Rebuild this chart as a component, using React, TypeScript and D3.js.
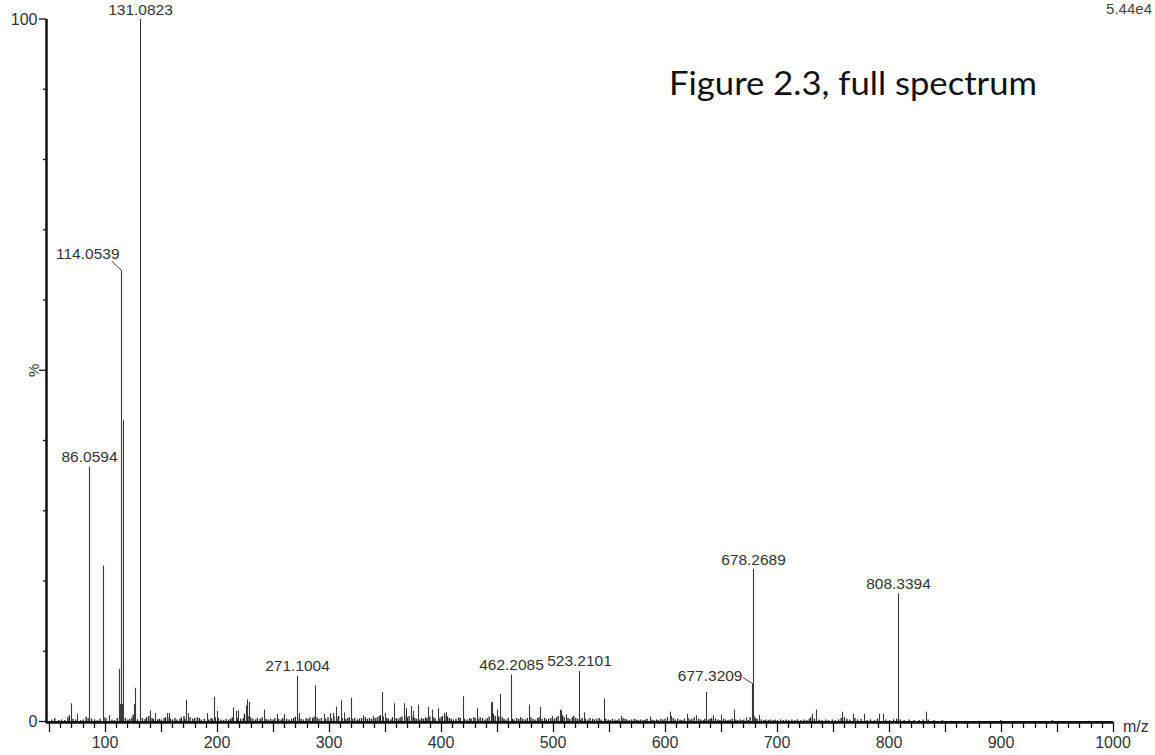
import React from "react";
import * as d3 from "d3";

// Annotated peaks: [m/z, relative intensity %]
const labeledPeaks: [number, number][] = [
  [86.0594, 36.3],
  [114.0539, 64.2],
  [131.0823, 100],
  [271.1004, 6.5],
  [462.2085, 6.7],
  [523.2101, 7.2],
  [677.3209, 5.4],
  [678.2689, 21.7],
  [808.3394, 18.25],
];

// Unannotated fragment peaks: [m/z, relative intensity %]
const minorPeaks: [number, number][] = [
  [69.6, 2.6], [74.7, 1.1], [97.9, 22.2], [103.5, 0.9], [112.6, 7.5], [113.5, 2.5],
  [114.6, 2.7], [115.3, 2.5], [116.3, 42.9], [126.2, 2.5], [127.2, 4.8], [140.4, 1.6],
  [144.6, 1.2], [155.0, 1.2], [157.0, 1.2], [172.3, 3.1], [174.3, 1.2], [190.7, 1.2],
  [197.3, 3.5], [199.6, 1.5], [214.5, 2.0], [216.9, 1.5], [219.0, 1.6], [225.6, 2.3],
  [226.5, 3.15], [228.8, 2.8], [242.0, 1.7], [253.2, 1.1], [260.0, 1.1], [273.4, 1.2],
  [287.7, 5.15], [295.4, 1.1], [300.8, 1.2], [303.2, 1.2], [305.9, 2.1], [310.3, 3.0],
  [313.3, 1.3], [319.3, 3.4], [330.6, 0.9], [339.5, 0.8], [347.0, 4.2], [350.0, 1.2],
  [358.2, 2.6], [366.8, 2.6], [368.6, 1.9], [372.8, 2.2], [375.1, 1.5], [379.6, 2.4],
  [388.5, 2.1], [392.1, 1.7], [396.9, 1.9], [402.5, 1.2], [404.3, 1.3], [419.8, 3.6],
  [431.7, 1.9], [444.5, 2.7], [445.7, 2.8], [450.1, 1.7], [453.1, 3.9], [478.7, 2.4],
  [488.8, 2.1], [499.5, 0.8], [506.1, 1.7], [507.0, 1.6], [512.0, 1.0], [527.3, 1.3],
  [545.4, 3.3], [560.6, 0.8], [586.4, 0.7], [604.3, 1.4], [619.2, 1.1], [628.1, 0.9],
  [637.0, 4.2], [643.0, 0.9], [650.4, 1.0], [661.4, 1.7], [672.1, 0.6], [683.9, 0.9],
  [731.6, 1.1], [735.2, 1.7], [758.4, 1.4], [767.9, 1.1], [777.7, 1.1], [791.1, 1.1],
  [794.7, 1.1], [833.3, 1.4],
];

// Baseline chemical noise: [m/z, relative intensity %]
const noisePeaks: [number, number][] = [
  [52.4, 0.3], [55.1, 0.5], [58.7, 0.2], [61.3, 0.3], [64.0, 0.2], [66.8, 0.6], [68.2, 0.9],
  [71.5, 0.4], [73.9, 0.3], [78.2, 0.2], [80.6, 0.3], [83.1, 0.7], [84.9, 0.5], [88.0, 0.4],
  [90.7, 0.3], [93.2, 0.2], [95.6, 0.4], [99.1, 0.6], [100.8, 0.5], [106.2, 0.3], [108.4, 0.2],
  [110.9, 0.5], [118.2, 0.5], [120.4, 0.3], [122.1, 0.4], [124.0, 0.6], [125.2, 1.0],
  [129.0, 0.3], [133.4, 0.5], [135.8, 0.4], [137.2, 0.6], [139.1, 0.8], [142.0, 0.5],
  [143.3, 0.4], [146.9, 0.3], [148.5, 0.4], [150.2, 0.3], [152.7, 0.5], [154.0, 0.6],
  [156.1, 0.6], [158.4, 0.4], [160.3, 0.3], [162.5, 0.5], [164.1, 0.3], [166.9, 0.4],
  [168.2, 0.6], [170.5, 0.8], [171.3, 0.4], [176.0, 0.6], [178.3, 0.4], [180.1, 0.5],
  [182.4, 0.6], [184.2, 0.5], [186.0, 0.3], [188.7, 0.4], [192.5, 0.3], [194.6, 0.5],
  [196.0, 0.4], [198.4, 0.6], [201.2, 0.5], [203.6, 0.3], [205.8, 0.2], [208.0, 0.4],
  [210.4, 0.3], [212.2, 0.4], [213.6, 0.6], [218.0, 0.5], [221.1, 0.4], [223.5, 0.5],
  [224.5, 1.1], [227.7, 0.8], [230.2, 0.6], [232.0, 0.4], [234.4, 0.3], [236.1, 0.5],
  [238.6, 0.4], [240.2, 0.6], [243.8, 0.4], [245.6, 0.3], [247.9, 0.4], [250.1, 0.3],
  [251.7, 0.5], [255.0, 0.4], [257.4, 0.3], [258.8, 0.5], [262.1, 0.4], [264.3, 0.3],
  [266.6, 0.4], [268.4, 0.5], [270.0, 0.7], [272.0, 0.6], [275.1, 0.4], [277.2, 0.3],
  [279.6, 0.5], [281.3, 0.4], [283.0, 0.6], [285.4, 0.5], [286.6, 0.7], [289.3, 0.6],
  [291.0, 0.4], [293.2, 0.5], [297.0, 0.4], [299.1, 0.6], [302.0, 0.5], [304.4, 0.7],
  [307.0, 0.6], [308.6, 0.8], [311.8, 0.5], [315.0, 0.4], [316.8, 0.5], [318.1, 0.6],
  [321.0, 0.4], [323.0, 0.5], [325.3, 0.3], [327.1, 0.4], [329.0, 0.5], [332.4, 0.6],
  [334.2, 0.4], [336.1, 0.5], [338.0, 0.4], [341.2, 0.5], [343.0, 0.6], [344.8, 0.8],
  [345.9, 0.9], [348.4, 0.7], [351.6, 0.5], [353.0, 0.4], [355.2, 0.3], [356.6, 0.6],
  [360.0, 0.5], [361.8, 0.4], [363.5, 0.6], [365.1, 0.7], [367.6, 0.9], [370.0, 0.6],
  [371.5, 0.8], [374.0, 0.7], [376.6, 0.5], [378.1, 0.4], [381.0, 0.3], [382.7, 0.5],
  [384.4, 0.4], [386.2, 0.6], [387.5, 0.5], [390.1, 0.7], [393.6, 0.6], [395.0, 0.4],
  [398.3, 0.5], [400.0, 0.6], [401.2, 0.8], [403.4, 0.9], [405.8, 0.7], [407.5, 0.5],
  [409.2, 0.4], [411.0, 0.3], [413.4, 0.4], [415.8, 0.6], [417.2, 0.5], [421.0, 0.4],
  [423.3, 0.3], [425.6, 0.5], [427.0, 0.4], [429.3, 0.6], [430.5, 0.5], [433.2, 0.4],
  [435.0, 0.6], [437.1, 0.5], [439.4, 0.3], [441.2, 0.5], [443.0, 0.7], [446.8, 1.1],
  [448.4, 0.8], [451.5, 0.7], [454.6, 0.6], [456.2, 0.4], [458.0, 0.3], [460.1, 0.5],
  [463.7, 0.4], [465.1, 0.3], [467.5, 0.5], [469.4, 0.4], [471.2, 0.6], [473.0, 0.4],
  [475.3, 0.3], [477.0, 0.5], [480.2, 0.6], [482.1, 0.4], [484.0, 0.3], [486.2, 0.5],
  [487.6, 0.6], [490.3, 0.4], [492.5, 0.5], [494.1, 0.3], [496.0, 0.4], [498.0, 0.5],
  [501.2, 0.4], [503.0, 0.6], [504.6, 0.8], [508.5, 0.9], [510.0, 0.6], [513.4, 0.5],
  [515.0, 0.4], [517.2, 0.6], [518.5, 0.8], [520.3, 0.5], [522.0, 0.4], [524.8, 0.3],
  [526.1, 0.5], [529.0, 0.4], [531.2, 0.3], [533.0, 0.5], [535.3, 0.4], [537.0, 0.3],
  [539.1, 0.4], [541.3, 0.5], [543.0, 0.3], [547.0, 0.4], [549.2, 0.3], [551.0, 0.2],
  [553.1, 0.4], [555.4, 0.3], [557.2, 0.2], [559.0, 0.4], [562.5, 0.5], [564.3, 0.4],
  [566.0, 0.3], [568.1, 0.2], [570.2, 0.3], [572.6, 0.4], [574.3, 0.3], [576.0, 0.2],
  [578.1, 0.3], [580.4, 0.2], [582.2, 0.3], [584.0, 0.4], [588.3, 0.3], [590.1, 0.2],
  [592.4, 0.3], [594.0, 0.2], [596.3, 0.4], [598.1, 0.3], [600.0, 0.4], [602.2, 0.6],
  [605.5, 0.8], [607.3, 0.5], [609.0, 0.3], [611.2, 0.4], [613.4, 0.3], [615.1, 0.2],
  [617.3, 0.4], [620.6, 0.5], [622.4, 0.3], [624.0, 0.4], [626.1, 0.6], [630.2, 0.4],
  [632.0, 0.3], [634.3, 0.2], [635.5, 0.4], [638.6, 0.3], [640.2, 0.4], [641.6, 0.5],
  [645.1, 0.4], [647.2, 0.3], [649.0, 0.2], [652.3, 0.4], [654.0, 0.3], [656.2, 0.2],
  [658.1, 0.3], [660.0, 0.4], [663.2, 0.3], [665.0, 0.2], [667.3, 0.3], [669.1, 0.2],
  [670.4, 0.3], [674.3, 0.2], [676.0, 0.6], [679.5, 0.8], [680.8, 0.5], [682.2, 0.4],
  [686.0, 0.3], [688.4, 0.2], [690.1, 0.3], [692.3, 0.2], [694.0, 0.3], [696.5, 0.2],
  [698.2, 0.3], [700.4, 0.2], [703.1, 0.3], [705.6, 0.2], [708.0, 0.3], [710.3, 0.2],
  [713.2, 0.3], [716.0, 0.2], [718.4, 0.3], [721.1, 0.2], [724.0, 0.3], [726.5, 0.2],
  [728.8, 0.4], [730.2, 0.6], [733.4, 0.4], [737.6, 0.3], [740.1, 0.2], [743.5, 0.3],
  [746.0, 0.2], [749.4, 0.3], [752.1, 0.2], [755.0, 0.3], [757.3, 0.5], [760.2, 0.6],
  [762.5, 0.4], [765.0, 0.3], [769.6, 0.5], [772.0, 0.3], [775.1, 0.4], [780.3, 0.2],
  [783.5, 0.3], [787.0, 0.2], [789.6, 0.4], [797.2, 0.3], [800.5, 0.2], [804.1, 0.3],
  [806.9, 0.4], [810.2, 0.3], [813.5, 0.2], [818.0, 0.3], [822.4, 0.2], [827.0, 0.2],
  [830.5, 0.3], [835.0, 0.3], [840.2, 0.2], [847.6, 0.2], [856.0, 0.1], [868.3, 0.1],
  [880.5, 0.1], [899.8, 0.2], [912.0, 0.1], [945.7, 0.2], [962.0, 0.1], [978.4, 0.1],
];

const xTickLabels = [100, 200, 300, 400, 500, 600, 700, 800, 900, 1000];
const yTickLabels = [0, 100];
const baseIntensity = "5.44e4";
const title = "Figure 2.3, full spectrum";

const W = 1155;
const H = 755;
const FONT = "'Liberation Sans', Arial, sans-serif";
const INK = "#333";

const x = d3.scaleLinear().domain([48.2, 1000]).range([47, 1113]);
const y = d3.scaleLinear().domain([0, 100]).range([721.5, 19]);

const snap = (v: number) => Math.round(v) + 0.5;

// Crowded labels sit up-left of their peak, joined by a short leader line.
// leader: offset of the leader's far end from the peak top; text: offset of the label's right end / baseline.
const leaderLabels: Record<string, { leader: [number, number]; text: [number, number] }> = {
  "114.0539": { leader: [-9.5, -9], text: [-2, -11.5] },
  "677.3209": { leader: [-9.5, -6], text: [-10, -2.5] },
};

export default function App() {
  const minorTicks = d3.range(50, 1001, 10);
  const yMinor = d3.range(0, 101, 10);
  const sticks = [...minorPeaks, ...labeledPeaks];

  return (
    <svg
      width={W}
      height={H}
      viewBox={`0 0 ${W} ${H}`}
      style={{ position: "absolute", left: 0, top: 0, background: "#fff" }}
    >
      <rect x={0} y={0} width={W} height={H} fill="#fff" />

      {/* baseline noise */}
      <g stroke="#222" strokeWidth={1.3}>
        {noisePeaks.map(([mz, it], i) => (
          <line key={i} x1={x(mz)} x2={x(mz)} y1={y(0)} y2={y(it)} />
        ))}
      </g>

      {/* spectrum sticks */}
      <g stroke="#3a3a3a" strokeWidth={1.1}>
        {sticks.map(([mz, it], i) => (
          <line key={i} x1={snap(x(mz))} x2={snap(x(mz))} y1={y(0)} y2={y(it)} />
        ))}
      </g>

      {/* peak annotations */}
      <g fontFamily={FONT} fontSize={15.5} fill={INK}>
        {labeledPeaks.map(([mz, it]) => {
          const text = mz.toFixed(4);
          const px = snap(x(mz));
          const py = y(it);
          const st = leaderLabels[text];
          if (st) {
            const [lx, ly] = st.leader;
            const [tx, ty] = st.text;
            return (
              <g key={text}>
                <line x1={px} y1={py} x2={px + lx} y2={py + ly} stroke="#444" strokeWidth={1} />
                <text x={px + tx} y={py + ty} textAnchor="end">
                  {text}
                </text>
              </g>
            );
          }
          return (
            <text key={text} x={px} y={py - 4.5} textAnchor="middle">
              {text}
            </text>
          );
        })}
      </g>

      {/* x axis */}
      <g stroke="#111">
        <line x1={x.range()[0] - 1} x2={x.range()[1]} y1={722.3} y2={722.3} strokeWidth={2.8} />
        {minorTicks.map((t) => (
          <line
            key={t}
            x1={snap(x(t))}
            x2={snap(x(t))}
            y1={722}
            y2={t % 50 === 0 ? 732 : 728}
            strokeWidth={1.3}
          />
        ))}
      </g>
      <g fontFamily={FONT} fontSize={16} fill={INK} textAnchor="middle">
        {xTickLabels.map((t) => (
          <text key={t} x={x(t)} y={747.5}>
            {t}
          </text>
        ))}
      </g>
      <text x={1123} y={731.5} fontFamily={FONT} fontSize={16} fill={INK}>
        m/z
      </text>

      {/* y axis */}
      <g stroke="#111">
        <line x1={46.5} x2={46.5} y1={y(100)} y2={723} strokeWidth={2.5} />
        {yMinor.map((t) => (
          <line
            key={t}
            x1={t % 50 === 0 ? 39 : 43}
            x2={46}
            y1={y(t)}
            y2={y(t)}
            strokeWidth={1.3}
          />
        ))}
      </g>
      <g fontFamily={FONT} fontSize={16} fill={INK} textAnchor="end">
        {yTickLabels.map((t) => (
          <text key={t} x={37.5} y={y(t) + 5.5}>
            {t}
          </text>
        ))}
      </g>
      <text
        transform={`translate(38.5,${y(50)}) rotate(-90)`}
        textAnchor="middle"
        fontFamily={FONT}
        fontSize={15}
        fill={INK}
      >
        %
      </text>

      {/* base peak intensity */}
      <text x={1152} y={13.5} textAnchor="end" fontFamily={FONT} fontSize={15} fill="#444">
        {baseIntensity}
      </text>

      {/* figure caption */}
      <text
        x={669}
        y={94.5}
        fontFamily="Lato, 'Open Sans', sans-serif"
        fontSize={33}
        fill="#111"
        textLength={368}
        lengthAdjust="spacingAndGlyphs"
      >
        {title}
      </text>
    </svg>
  );
}
